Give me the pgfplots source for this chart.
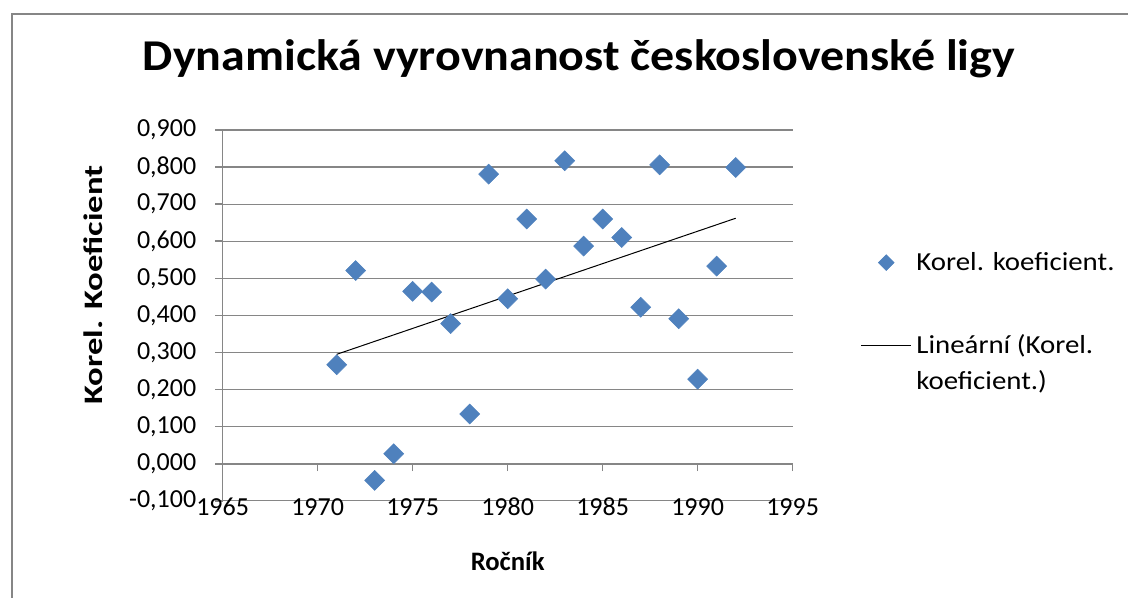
\documentclass[border=0pt]{standalone}
\usepackage{fontspec}
\setmainfont{Carlito}
\usepackage{pgfplots}
\pgfplotsset{compat=1.18}
\definecolor{serie}{HTML}{4F81BD}
\definecolor{mrizka}{HTML}{868686}
\pgfplotsset{
    legmark/.style={legend image code/.code={\draw[##1, mark size=4.2pt] plot coordinates {(18.75pt,0pt)};}},
    legline/.style={legend image code/.code={\draw[##1] (0pt,13.5pt) -- (37.5pt,13.5pt);}},
}
\begin{document}
\begin{tikzpicture}
\path[use as bounding box] (0pt,0pt) rectangle (846pt,447.75pt);
\draw[mrizka, line width=1.5pt] (9pt,-1pt) -- (9pt,437.25pt) -- (847pt,437.25pt);
\begin{axis}[
    at={(167pt,72.15pt)}, anchor=south west,
    scale only axis, width=427.5pt, height=278.1pt,
    xmin=1965, xmax=1995, ymin=-0.1, ymax=0.9,
    xtick={1965,1970,1975,1980,1985,1990,1995},
    ytick={-0.1,0,0.1,0.2,0.3,0.4,0.5,0.6,0.7,0.8,0.9},
    axis x line=middle, axis y line=left,
    hide obscured x ticks=false, hide obscured y ticks=false,
    axis line style={mrizka, line width=1.2pt, -},
    ymajorgrids, grid style={mrizka, line width=0.9pt},
    tick style={mrizka, line width=1.2pt},
    tick align=outside, major tick length=5.5pt,
    /pgf/number format/assume math mode=true,
    tick label style={font=\fontsize{19.5}{23}\selectfont},
    xticklabel style={anchor=base, yshift=-33pt, /pgf/number format/.cd, 1000 sep={}},
    yticklabel style={xshift=-10.8pt, /pgf/number format/.cd, fixed, fixed zerofill, precision=3, use comma},
    title={\scalebox{1.09}[1]{Dynamická vyrovnanost československé ligy}},
    title style={at={(axis description cs:0.625,1.1402)}, anchor=base, font=\bfseries\fontsize{33}{38}\selectfont},
    xlabel={Ročník},
    xlabel style={at={(axis description cs:0.5,-0.189)}, anchor=base, font=\bfseries\fontsize{20}{24}\selectfont},
    ylabel={\scalebox{1.3}[1]{Korel. Koeficient}},
    ylabel style={at={(axis description cs:-0.21,0.582)}, rotate=0, anchor=base, font=\bfseries\fontsize{20}{24}\selectfont},
    legend style={at={(axis description cs:1.112,0.6845)}, anchor=north west, draw=none, fill=none,
        font=\fontsize{19.5}{27}\selectfont, cells={align=left, anchor=west}, row sep=42.75pt,
        /tikz/every odd column/.append style={column sep=1.5pt}},
]
\addplot[only marks, mark=square*, mark size=5.3pt, color=serie,
    mark options={rotate=45, fill=serie, draw=serie}, legmark]
coordinates {
(1971,0.267) (1972,0.521) (1973,-0.045) (1974,0.027) (1975,0.465)
(1976,0.463) (1977,0.378) (1978,0.134) (1979,0.781) (1980,0.445)
(1981,0.660) (1982,0.498) (1983,0.817) (1984,0.587) (1985,0.660)
(1986,0.610) (1987,0.422) (1988,0.806) (1989,0.391) (1990,0.228)
(1991,0.533) (1992,0.799)
};
\addlegendentry{\scalebox{1.11}[1]{Korel. koeficient.}}
% linearni trend
\addplot[black, line width=0.75pt, mark=none, legline]
coordinates {(1971,0.295) (1992,0.662)};
\addlegendentry{\scalebox{1.11}[1]{Lineární (Korel.}\\\scalebox{1.11}[1]{koeficient.)}}
\end{axis}
\end{tikzpicture}
\end{document}
